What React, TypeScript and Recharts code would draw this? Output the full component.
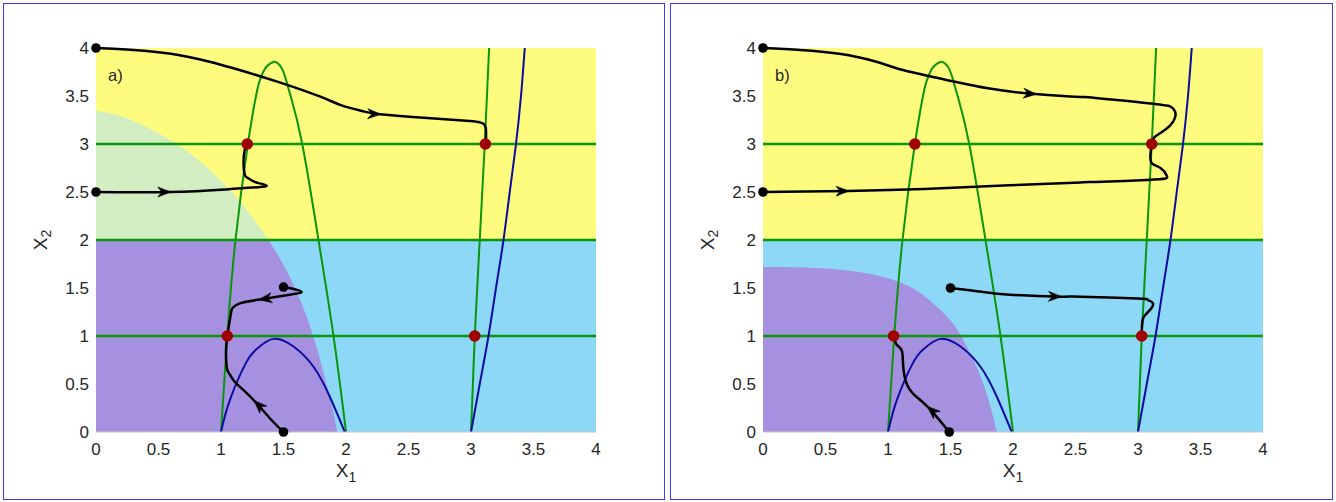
import React from 'react';
import { ComposedChart, Area, Line, Scatter, XAxis, YAxis } from 'recharts';

type Pt = [number, number];

const TICKS = [0, 0.5, 1, 1.5, 2, 2.5, 3, 3.5, 4];
const LEVELS = [1, 2, 3];

// nullclines, shared by both panels
const greenArch: Pt[] = [
  [1.0, 0], [1.05, 1.0], [1.116, 2.0], [1.215, 3.0], [1.28, 3.5], [1.31, 3.66], [1.35, 3.78],
  [1.385, 3.83], [1.42, 3.855], [1.455, 3.84], [1.49, 3.78], [1.52, 3.67], [1.557, 3.5],
  [1.65, 3.0], [1.78, 2.0], [1.9, 1.0], [2.0, 0],
];
const greenStem: Pt[] = [[3.0, 0], [3.03, 1], [3.07, 2], [3.11, 3], [3.145, 4]];
const blueHump: Pt[] = [
  [1.0, 0], [1.07, 0.33], [1.2, 0.72], [1.29, 0.87], [1.42, 0.97], [1.58, 0.89],
  [1.74, 0.68], [1.87, 0.37], [1.99, 0],
];
const blueRight: Pt[] = [
  [3.0, 0], [3.07, 0.5], [3.14, 1], [3.2, 1.5], [3.26, 2], [3.31, 2.5], [3.36, 3], [3.4, 3.5], [3.43, 4],
];

// panel a
const basinA: Pt[] = [
  [0, 3.35], [0.2, 3.29], [0.4, 3.18], [0.645, 3.0], [0.85, 2.8], [1.085, 2.5], [1.25, 2.24],
  [1.38, 2.0], [1.5, 1.74], [1.6, 1.48], [1.68, 1.22], [1.74, 0.99], [1.8, 0.72], [1.85, 0.47],
  [1.9, 0.2], [1.93, 0],
];
const pathsA: Pt[][] = [
  [[0, 4], [0.3, 3.98], [0.6, 3.94], [0.9, 3.86], [1.11, 3.785], [1.45, 3.65], [1.8, 3.49], [1.97, 3.4],
    [2.14, 3.34], [2.27, 3.31], [2.65, 3.27], [2.99, 3.24], [3.07, 3.225], [3.1, 3.21], [3.115, 3.18],
    [3.12, 3.14], [3.12, 3.0]],
  [[0, 2.5], [0.59, 2.5], [1.07, 2.53], [1.3, 2.55], [1.365, 2.566], [1.31, 2.59], [1.26, 2.61],
    [1.21, 2.65], [1.19, 2.68], [1.18, 2.8], [1.19, 2.94], [1.21, 3.0]],
  [[1.5, 1.51], [1.58, 1.49], [1.645, 1.46], [1.55, 1.43], [1.31, 1.38], [1.15, 1.34], [1.1, 1.3],
    [1.085, 1.27], [1.066, 1.13], [1.05, 1.0]],
  [[1.5, 0], [1.4, 0.13], [1.27, 0.32], [1.16, 0.46], [1.1, 0.54], [1.06, 0.62], [1.045, 0.68],
    [1.04, 0.85], [1.05, 1.0]],
];
const arrowsA = [
  { x: 2.27, y: 3.31, dx: 1, dy: -0.05 },
  { x: 0.59, y: 2.5, dx: 1, dy: 0 },
  { x: 1.31, y: 1.38, dx: -1, dy: -0.2 },
  { x: 1.27, y: 0.32, dx: -0.11, dy: 0.14 },
];
const equilibriaA: Pt[] = [[1.21, 3.0], [3.115, 3.0], [1.05, 1.0], [3.03, 1.0]];
const startsA: Pt[] = [[0, 4], [0, 2.5], [1.5, 1.51], [1.5, 0]];

// panel b
const basinB: Pt[] = [
  [0, 1.72], [0.3, 1.715], [0.62, 1.69], [0.88, 1.64], [1.15, 1.53], [1.36, 1.34], [1.52, 1.13],
  [1.63, 0.89], [1.74, 0.58], [1.82, 0.26], [1.87, 0],
];
const pathsB: Pt[][] = [
  [[0, 4], [0.3, 3.98], [0.61, 3.94], [0.9, 3.86], [1.12, 3.77], [1.46, 3.67], [1.8, 3.58], [2.18, 3.52],
    [2.54, 3.49], [2.66, 3.48], [3.12, 3.42], [3.22, 3.4], [3.26, 3.39], [3.3, 3.32], [3.28, 3.23],
    [3.22, 3.15], [3.14, 3.08], [3.12, 3.04], [3.11, 3.0]],
  [[0, 2.5], [0.68, 2.51], [1.29, 2.53], [1.975, 2.57], [2.54, 2.6], [2.66, 2.605], [3.07, 2.625],
    [3.22, 2.64], [3.23, 2.67], [3.18, 2.75], [3.11, 2.8], [3.1, 2.9], [3.11, 3.0]],
  [[1.5, 1.5], [1.75, 1.46], [1.975, 1.43], [2.38, 1.41], [2.54, 1.41], [3.0, 1.39], [3.07, 1.38],
    [3.12, 1.34], [3.08, 1.25], [3.04, 1.18], [3.03, 1.06], [3.03, 1.0]],
  [[1.49, 0], [1.32, 0.26], [1.2, 0.4], [1.14, 0.54], [1.12, 0.72], [1.11, 0.85], [1.07, 0.91],
    [1.045, 1.0]],
];
const arrowsB = [
  { x: 2.18, y: 3.52, dx: 1, dy: -0.1 },
  { x: 0.68, y: 2.51, dx: 1, dy: 0.01 },
  { x: 2.38, y: 1.41, dx: 1, dy: -0.03 },
  { x: 1.32, y: 0.26, dx: -0.12, dy: 0.14 },
];
const equilibriaB: Pt[] = [[1.215, 3.0], [3.11, 3.0], [1.045, 1.0], [3.03, 1.0]];
const startsB: Pt[] = [[0, 4], [0, 2.5], [1.5, 1.5], [1.49, 0]];

const YELLOW = '#fefc7f';
const CYAN = '#8ed8f7';
const PURPLE = '#a691e1';
const PALE_GREEN = '#d1edc1';
const GREEN = '#0a960a';
const BLUE = '#0c0ca0';
const DARK_RED = '#a00000';
const FONT = '"Liberation Sans", Arial, sans-serif';
const TEXT = '#262626';

const toXY = (a: Pt[]) => a.map(([x, y]) => ({ x, y }));

// plot area is 500 px wide and 384 px tall for 4 units each
const PX_X = 125;
const PX_Y = 96;

const Arrowhead = (props: any) => {
  const { cx, cy, payload } = props;
  const ang = (Math.atan2(-payload.dy * PX_Y, payload.dx * PX_X) * 180) / Math.PI;
  return (
    <path
      d="M1,0 L-12,-5 L-8,0 L-12,5 Z"
      fill="#000"
      stroke="#000"
      strokeWidth={0.6}
      strokeLinejoin="round"
      transform={`translate(${cx},${cy}) rotate(${ang})`}
    />
  );
};

const dot = (r: number, color: string) => (props: any) =>
  <circle cx={props.cx} cy={props.cy} r={r} fill={color} />;

interface PanelProps {
  left: number;
  width: number;
  tag: string;
  basin: Pt[];
  paths: Pt[][];
  arrows: { x: number; y: number; dx: number; dy: number }[];
  equilibria: Pt[];
  starts: Pt[];
}

function Panel({ left, width, tag, basin, paths, arrows, equilibria, starts }: PanelProps) {
  const upper = toXY(basin.filter(([, y]) => y >= 2));

  return (
    <div style={{ position: 'absolute', left, top: 0, width, height: 502 }}>
      <ComposedChart
        width={width}
        height={502}
        margin={{ top: 48, right: width - 596, bottom: 30, left: 36 }}
      >
        <XAxis
          type="number"
          dataKey="x"
          domain={[0, 4]}
          ticks={TICKS}
          height={40}
          tickLine={false}
          tickSize={0}
          tickMargin={11}
          axisLine={{ stroke: '#c4c4c4' }}
          tick={{ fill: TEXT, fontSize: 17, fontFamily: FONT }}
        />
        <YAxis
          type="number"
          dataKey="y"
          domain={[0, 4]}
          ticks={TICKS}
          width={60}
          tickLine={false}
          tickSize={0}
          tickMargin={7}
          axisLine={false}
          tick={{ fill: TEXT, fontSize: 17, fontFamily: FONT }}
        />
        <Area data={toXY([[0, 2], [4, 2]])} dataKey="y" baseValue={0} type="linear"
          stroke="none" fill={CYAN} fillOpacity={1} isAnimationActive={false} />
        <Area data={toXY(basin)} dataKey="y" baseValue={0} type="natural"
          stroke="none" fill={PURPLE} fillOpacity={1} isAnimationActive={false} />
        <Area data={toXY([[0, 4], [4, 4]])} dataKey="y" baseValue={2} type="linear"
          stroke="none" fill={YELLOW} fillOpacity={1} isAnimationActive={false} />
        {upper.length > 1 && (
          <Area data={upper} dataKey="y" baseValue={2} type="natural"
            stroke="none" fill={PALE_GREEN} fillOpacity={1} isAnimationActive={false} />
        )}

        {LEVELS.map((lv) => (
          <Line key={`lv-${lv}`} data={toXY([[0, lv], [4, lv]])} dataKey="y" type="linear"
            stroke={GREEN} strokeWidth={2.5} dot={false} activeDot={false} isAnimationActive={false} />
        ))}
        <Line data={toXY(greenArch)} dataKey="y" type="natural" stroke={GREEN} strokeWidth={2}
          dot={false} activeDot={false} isAnimationActive={false} />
        <Line data={toXY(greenStem)} dataKey="y" type="natural" stroke={GREEN} strokeWidth={2}
          dot={false} activeDot={false} isAnimationActive={false} />
        <Line data={toXY(blueHump)} dataKey="y" type="natural" stroke={BLUE} strokeWidth={2}
          dot={false} activeDot={false} isAnimationActive={false} />
        <Line data={toXY(blueRight)} dataKey="y" type="natural" stroke={BLUE} strokeWidth={2}
          dot={false} activeDot={false} isAnimationActive={false} />

        {paths.map((p, i) => (
          <Line key={`path-${i}`} data={toXY(p)} dataKey="y" type="natural" stroke="#000"
            strokeWidth={2.5} strokeLinejoin="round" dot={false} activeDot={false} isAnimationActive={false} />
        ))}
        <Scatter data={arrows} dataKey="y" shape={Arrowhead} isAnimationActive={false} />
        <Scatter data={toXY(starts)} dataKey="y" shape={dot(4.8, '#000')} isAnimationActive={false} />
        <Scatter data={toXY(equilibria)} dataKey="y" shape={dot(5.8, DARK_RED)} isAnimationActive={false} />
      </ComposedChart>

      <div style={{ position: 'absolute', left: 108, top: 66, fontFamily: FONT, fontSize: 16.5, color: TEXT }}>
        {tag}
      </div>
      <div
        style={{
          position: 'absolute', left: 346, top: 460, transform: 'translateX(-50%)',
          fontFamily: FONT, fontSize: 19, color: TEXT, whiteSpace: 'nowrap',
        }}
      >
        X<sub style={{ fontSize: 14 }}>1</sub>
      </div>
      <div
        style={{
          position: 'absolute', left: 42, top: 240, transform: 'translate(-50%, -50%) rotate(-90deg)',
          fontFamily: FONT, fontSize: 19, color: TEXT, whiteSpace: 'nowrap',
        }}
      >
        X<sub style={{ fontSize: 14 }}>2</sub>
      </div>
    </div>
  );
}

export default function App() {
  const frame = { position: 'absolute' as const, top: 3, height: 495, border: '1px solid #3a3aff' };
  return (
    <div style={{ position: 'absolute', left: 0, top: 0, width: 1336, height: 502, background: '#fff' }}>
      <Panel left={0} width={668} tag="a)" basin={basinA} paths={pathsA} arrows={arrowsA}
        equilibria={equilibriaA} starts={startsA} />
      <Panel left={667} width={668} tag="b)" basin={basinB} paths={pathsB} arrows={arrowsB}
        equilibria={equilibriaB} starts={startsB} />
      <div style={{ ...frame, left: 3, width: 660 }} />
      <div style={{ ...frame, left: 670, width: 661 }} />
    </div>
  );
}
